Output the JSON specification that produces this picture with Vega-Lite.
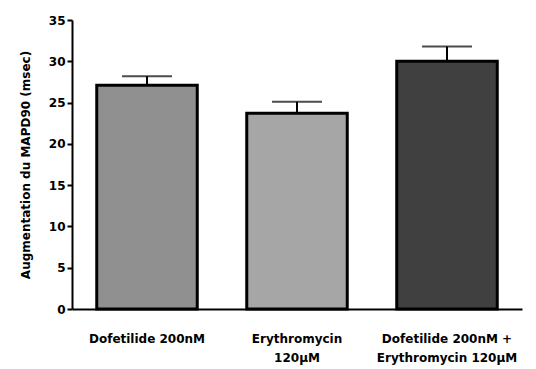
{
  "$schema": "https://vega.github.io/schema/vega-lite/v6.json",
  "autosize": {"type": "none"},
  "padding": {"left": 72, "top": 20, "right": 14, "bottom": 60},
  "width": 450,
  "height": 289,
  "background": "white",
  "data": {
    "values": [
      {"group": "Dofetilide 200nM", "value": 27.1, "hi": 28.2},
      {"group": "Erythromycin|120µM", "value": 23.7, "hi": 25.1},
      {"group": "Dofetilide 200nM +|Erythromycin 120µM", "value": 30.0, "hi": 31.8}
    ]
  },
  "config": {
    "view": {"stroke": null},
    "font": "DejaVu Sans"
  },
  "encoding": {
    "x": {
      "field": "group", "type": "nominal", "sort": null,
      "scale": {"paddingInner": 0.33, "paddingOuter": 0.165},
      "axis": {
        "title": null, "labelAngle": 0, "ticks": false,
        "labelExpr": "split(datum.label, '|')",
        "labelFont": "DejaVu Sans", "labelFontWeight": "bold", "labelFontSize": 12,
        "labelColor": "black", "labelPadding": 24, "labelLineHeight": 19,
        "domainColor": "black", "domainWidth": 2
      }
    }
  },
  "layer": [
    {
      "mark": {"type": "bar", "stroke": "black", "strokeWidth": 3},
      "encoding": {
        "y": {
          "field": "value", "type": "quantitative",
          "scale": {"domain": [0, 35], "nice": false},
          "axis": {
            "title": "Augmentation du MAPD90 (msec)",
            "titleFont": "DejaVu Sans", "titleFontWeight": "bold", "titleFontSize": 12,
            "titleColor": "black", "titlePadding": 16,
            "values": [0, 5, 10, 15, 20, 25, 30, 35],
            "grid": false, "tickColor": "black", "tickWidth": 2, "tickSize": 5,
            "labelFont": "DejaVu Sans", "labelFontWeight": "bold", "labelFontSize": 12,
            "labelColor": "black", "labelPadding": 2,
            "domainColor": "black", "domainWidth": 2
          }
        },
        "fill": {
          "field": "group", "type": "nominal", "sort": null, "legend": null,
          "scale": {"range": ["#909090", "#a6a6a6", "#404040"]}
        }
      }
    },
    {
      "mark": {"type": "rule", "color": "black", "strokeWidth": 2},
      "encoding": {
        "y": {"field": "value", "type": "quantitative"},
        "y2": {"field": "hi"}
      }
    },
    {
      "mark": {"type": "tick", "color": "black", "thickness": 2, "size": 50, "orient": "horizontal"},
      "encoding": {
        "y": {"field": "hi", "type": "quantitative"}
      }
    }
  ]
}
